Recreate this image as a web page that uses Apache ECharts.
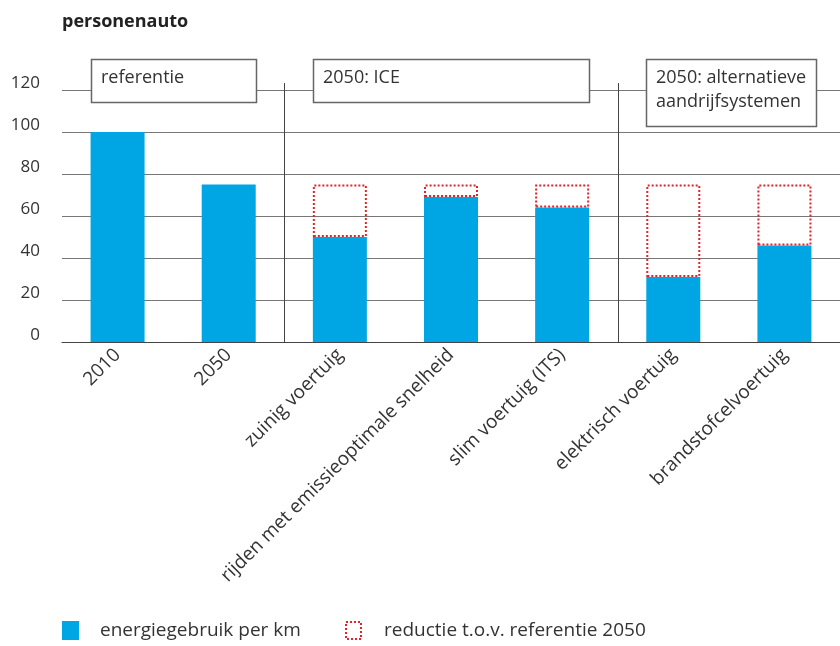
<!DOCTYPE html>
<html><head><meta charset="utf-8">
<script src="https://cdn.jsdelivr.net/npm/echarts@6/dist/echarts.min.js"></script>
<style>html,body{margin:0;padding:0;background:#fff}#c{width:840px;height:646px}</style>
</head><body><div id="c"></div>
<script>
const categories = ['2010','2050','zuinig voertuig','rijden met emissieoptimale snelheid','slim voertuig (ITS)','elektrisch voertuig','brandstofcelvoertuig'];
const energy = [100, 75, 50, 69, 64, 31, 46];
const reduction = [null, null, 25, 6, 11, 44, 29];
const yTicks = [0, 20, 40, 60, 80, 100, 120];
const groups = [
  {label: 'referentie', from: 0, to: 1},
  {label: '2050: ICE', from: 2, to: 4},
  {label: '2050: alternatieve\naandrijfsystemen', from: 5, to: 6}
];
const FONT = 'Open Sans';
const BLUE = '#00a5e3';
const RED = '#e3232b';

const chart = echarts.init(document.getElementById('c'), null, {renderer: 'canvas'});
chart.setOption({
  animation: false,
  title: {text: 'personenauto', left: 57, top: 8, textStyle: {fontFamily: FONT, fontSize: 18, fontWeight: 'bold', color: '#222'}},
  grid: {left: 62, top: 90, width: 786, height: 252, containLabel: false},
  legend: [
    {left: 57, top: 616, icon: 'rect', itemWidth: 17, itemHeight: 19,
     data: [{name: 'energiegebruik per km'}],
     textStyle: {fontFamily: FONT, fontSize: 19, color: '#333', padding: [0, 0, 0, 16]}},
    {left: 340, top: 616, icon: 'rect', itemWidth: 15, itemHeight: 17,
     data: [{name: 'reductie t.o.v. referentie 2050',
             itemStyle: {color: 'rgba(255,255,255,0)', borderColor: RED, borderWidth: 2, borderType: [2, 2]}}],
     textStyle: {fontFamily: FONT, fontSize: 19, color: '#333', padding: [0, 0, 0, 18]}}
  ],
  xAxis: {
    type: 'category', data: categories,
    axisLine: {lineStyle: {color: '#444', width: 1}},
    axisTick: {inside: true, length: 7, lineStyle: {color: '#444'}},
    axisLabel: {interval: 0, rotate: 45, margin: 10, fontFamily: FONT, fontSize: 19, color: '#333'}
  },
  yAxis: {
    type: 'value', min: 0, max: 120, interval: 20,
    axisLine: {show: false}, axisTick: {show: false},
    axisLabel: {margin: 22, fontFamily: FONT, fontSize: 17, color: '#333', verticalAlign: 'bottom', lineHeight: 13,
      formatter: v => yTicks.includes(v) ? String(v) : ''},
    splitLine: {lineStyle: {color: '#777', width: 1}}
  },
  series: [
    {name: 'energiegebruik per km', type: 'bar', stack: 's', barWidth: 54, data: energy,
     itemStyle: {color: BLUE}},
    {name: 'reductie t.o.v. referentie 2050', type: 'bar', stack: 's', barWidth: 54, data: reduction,
     itemStyle: {color: 'rgba(255,255,255,0)', borderColor: RED, borderWidth: 2, borderType: [2, 2]}}
  ]
});

function drawAnnotations() {
  const ctx = document.createElement('canvas').getContext('2d');
  const boxFont = '18px "' + FONT + '"';
  ctx.font = boxFont;
  const px = i => chart.convertToPixel({xAxisIndex: 0}, i);
  const y0 = chart.convertToPixel({yAxisIndex: 0}, 0);
  const half = 27;
  const g = [];
  for (let k = 0; k < groups.length - 1; k++) {
    const x = Math.round((px(groups[k].to) + px(groups[k + 1].from)) / 2) + 0.5;
    g.push({type: 'line', z: 5, shape: {x1: x, y1: 83, x2: x, y2: y0}, style: {stroke: '#444', lineWidth: 1}});
  }
  groups.forEach(gr => {
    const lines = gr.label.split('\n');
    const tw = Math.max(...lines.map(l => ctx.measureText(l).width));
    const x1 = px(gr.from) - half;
    const w = Math.max(px(gr.to) + half - x1, tw + 20);
    const h = 19 + lines.length * 24;
    g.push({type: 'rect', z: 10, shape: {x: Math.round(x1) + 0.5, y: 59.5, width: Math.round(w), height: h},
      style: {fill: '#fff', stroke: '#666', lineWidth: 1.5}});
    g.push({type: 'text', z: 11, x: Math.round(x1) + 10, y: 66,
      style: {text: gr.label, font: boxFont, fill: '#333', lineHeight: 24}});
  });
  chart.setOption({graphic: g});
}
drawAnnotations();
</script></body></html>
